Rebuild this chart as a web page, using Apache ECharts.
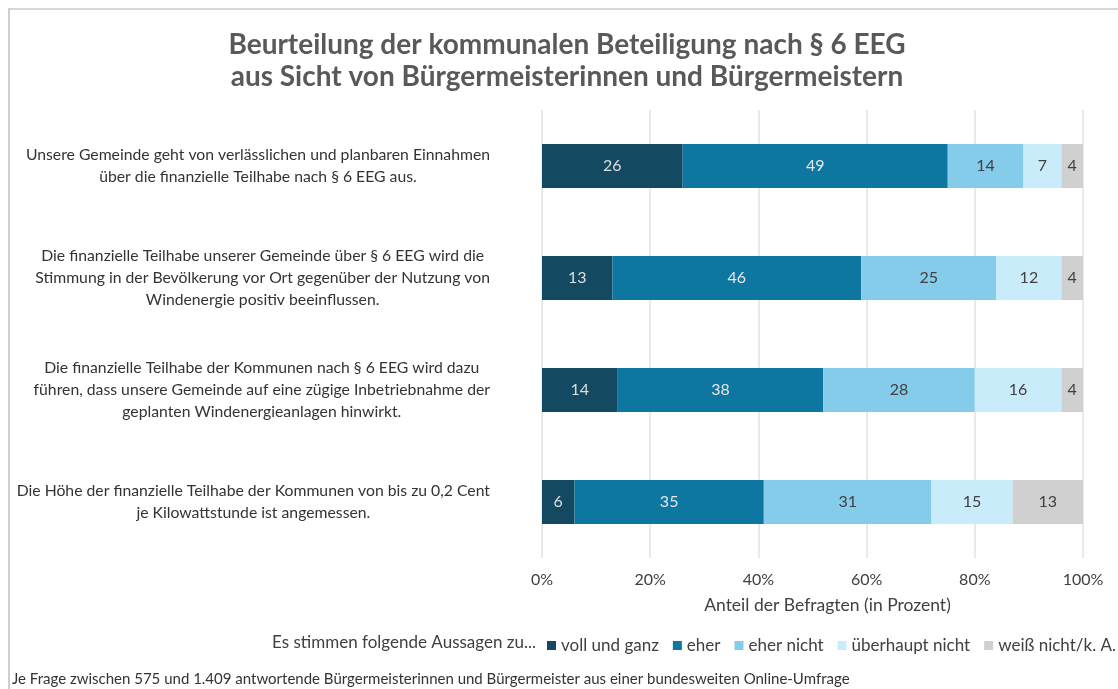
<!DOCTYPE html>
<html>
<head>
<meta charset="utf-8">
<style>
  html, body { margin: 0; padding: 0; background: #ffffff; }
  #chart { width: 1118px; height: 689px; }
</style>
<script src="https://cdn.jsdelivr.net/npm/echarts@6/dist/echarts.min.js"></script>
</head>
<body>
<div id="chart"></div>
<script>
// Survey statements (top to bottom)
const categories = [
  'Unsere Gemeinde geht von verlässlichen und planbaren Einnahmen\nüber die finanzielle Teilhabe nach § 6 EEG aus.',
  'Die finanzielle Teilhabe unserer Gemeinde über § 6 EEG wird die\nStimmung in der Bevölkerung vor Ort gegenüber der Nutzung von\nWindenergie positiv beeinflussen.',
  'Die finanzielle Teilhabe der Kommunen nach § 6 EEG wird dazu\nführen, dass unsere Gemeinde auf eine zügige Inbetriebnahme der\ngeplanten Windenergieanlagen hinwirkt.',
  'Die Höhe der finanzielle Teilhabe der Kommunen von bis zu 0,2 Cent\nje Kilowattstunde ist angemessen.'
];

// Answer shares in percent
const seriesNames = ['voll und ganz', 'eher', 'eher nicht', 'überhaupt nicht', 'weiß nicht/k. A.'];
const vollUndGanz     = [26, 13, 14, 6];
const eher            = [49, 46, 38, 35];
const eherNicht       = [14, 25, 28, 31];
const ueberhauptNicht = [7, 12, 16, 15];
const weissNicht      = [4, 4, 4, 13];

const xTicks = [0, 20, 40, 60, 80, 100];

const colors = ['#134961', '#0d76a1', '#85cbea', '#c9ecfa', '#d0d0d0'];
const labelColors = ['#dedede', '#e6e6e6', '#404040', '#404040', '#404040'];
const FONT = 'Lato';

const chart = echarts.init(document.getElementById('chart'));

const seriesData = [vollUndGanz, eher, eherNicht, ueberhauptNicht, weissNicht];

const option = {
  animation: false,
  backgroundColor: '#ffffff',
  textStyle: { fontFamily: FONT },
  title: {
    text: 'Beurteilung der kommunalen Beteiligung nach § 6 EEG\naus Sicht von Bürgermeisterinnen und Bürgermeistern',
    left: 562,
    textAlign: 'center',
    top: 24,
    textStyle: {
      fontFamily: FONT,
      fontSize: 28,
      fontWeight: 'bold',
      color: '#595959',
      lineHeight: 32
    }
  },
  legend: {
    data: seriesNames,
    left: 547,
    top: 637,
    padding: 0,
    itemWidth: 9,
    itemHeight: 9,
    itemGap: 14,
    icon: 'rect',
    selectedMode: false,
    textStyle: { fontFamily: FONT, fontSize: 17, color: '#404040' }
  },
  grid: { left: 542, right: 35, top: 110, bottom: 131 },
  xAxis: {
    type: 'value',
    min: xTicks[0],
    max: xTicks[xTicks.length - 1],
    interval: xTicks[1] - xTicks[0],
    name: 'Anteil der Befragten (in Prozent)',
    nameLocation: 'middle',
    nameGap: 38,
    nameTextStyle: { fontFamily: FONT, fontSize: 17.5, color: '#404040', padding: [0, 0, 0, 30] },
    axisLine: { show: false },
    axisTick: { show: false },
    axisLabel: {
      margin: 14,
      fontFamily: FONT,
      fontSize: 16,
      color: '#404040',
      formatter: '{value}%'
    },
    splitLine: { show: true, lineStyle: { color: '#e3e3e3', width: 1.5 } }
  },
  yAxis: {
    type: 'category',
    data: categories,
    inverse: true,
    axisLine: { show: false },
    axisTick: { show: false },
    axisLabel: {
      margin: 52,
      align: 'right',
      formatter: function (v) { return '{c|' + v + '}'; },
      rich: {
        c: {
          fontFamily: FONT,
          fontSize: 15.75,
          lineHeight: 22,
          color: '#333333',
          align: 'center'
        }
      }
    }
  },
  series: seriesNames.map(function (name, i) {
    return {
      name: name,
      type: 'bar',
      stack: 'total',
      barWidth: 44,
      data: seriesData[i],
      itemStyle: { color: colors[i] },
      label: {
        show: true,
        position: 'inside',
        fontFamily: FONT,
        fontSize: 16,
        color: labelColors[i]
      }
    };
  }),
  graphic: [
    {
      type: 'line',
      shape: { x1: 8, y1: 9, x2: 1118, y2: 9 },
      style: { stroke: '#d6d6d6', lineWidth: 2 },
      silent: true
    },
    {
      type: 'line',
      shape: { x1: 9, y1: 8, x2: 9, y2: 689 },
      style: { stroke: '#cfcfcf', lineWidth: 2 },
      silent: true
    },
    {
      type: 'text',
      left: 272,
      top: 634,
      style: {
        text: 'Es stimmen folgende Aussagen zu...',
        font: '17px ' + FONT,
        fill: '#404040'
      }
    },
    {
      type: 'text',
      left: 12,
      top: 672,
      style: {
        text: 'Je Frage zwischen 575 und 1.409 antwortende Bürgermeisterinnen und Bürgermeister aus einer bundesweiten Online-Umfrage',
        font: '15px ' + FONT,
        fill: '#333333'
      }
    }
  ]
};

chart.setOption(option);
</script>
</body>
</html>
